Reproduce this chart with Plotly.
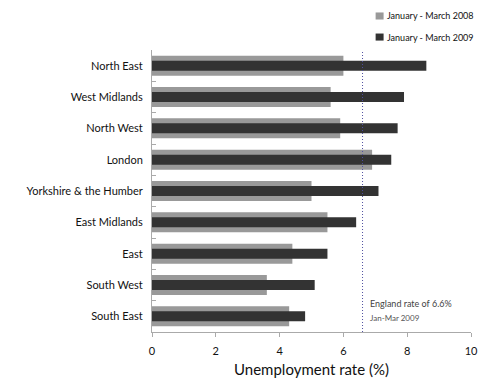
import plotly.graph_objects as go

regions = ["North East", "West Midlands", "North West", "London",
           "Yorkshire & the Humber", "East Midlands", "East", "South West", "South East"]
rate_2008 = [6.0, 5.6, 5.9, 6.9, 5.0, 5.5, 4.4, 3.6, 4.3]
rate_2009 = [8.6, 7.9, 7.7, 7.5, 7.1, 6.4, 5.5, 5.1, 4.8]
england_rate = 6.6
series_names = ["January - March 2008", "January - March 2009"]
x_ticks = [0, 2, 4, 6, 8, 10]

FONT = "Lato, 'Open Sans', sans-serif"
GREY = "#999999"
DARK = "#333333"
COLORS = [GREY, DARK]

fig = go.Figure()
fig.add_trace(go.Bar(y=regions, x=rate_2008, orientation="h", width=0.64,
                     name=series_names[0],
                     marker=dict(color=GREY, line=dict(width=0)), showlegend=False))
fig.add_trace(go.Bar(y=regions, x=rate_2009, orientation="h", width=0.32,
                     name=series_names[1],
                     marker=dict(color=DARK, line=dict(width=0)), showlegend=False))

# compact key in the top-right corner: small square swatch + label per series
key_x = 0.701           # left edge of swatches (paper units)
key_w = 0.025           # swatch width
key_h = 0.025           # swatch height
key_rows = [1.1206, 1.0459]
for name, col, yc in zip(series_names, COLORS, key_rows):
    fig.add_shape(type="rect", xref="paper", yref="paper",
                  x0=key_x, x1=key_x + key_w, y0=yc - key_h / 2, y1=yc + key_h / 2,
                  fillcolor=col, line=dict(width=0))
    fig.add_annotation(xref="paper", yref="paper", x=key_x + key_w, y=yc,
                       text=name, showarrow=False, xanchor="left", yanchor="middle",
                       xshift=1, font=dict(size=9, color="#111111", family=FONT))

fig.add_shape(type="line", x0=england_rate, x1=england_rate, xref="x",
              y0=0, y1=1, yref="y domain",
              line=dict(color="#5050a0", width=1, dash="1px,2px"))
fig.add_annotation(x=england_rate, y=0, yref="y domain", xref="x",
                   text="England rate of 6.6%", showarrow=False,
                   xanchor="left", yanchor="bottom", xshift=5, yshift=21,
                   font=dict(size=9, color="#444444", family=FONT))
fig.add_annotation(x=england_rate, y=0, yref="y domain", xref="x",
                   text="Jan-Mar 2009", showarrow=False,
                   xanchor="left", yanchor="bottom", xshift=5, yshift=7,
                   font=dict(size=8, color="#555555", family=FONT))

fig.update_layout(
    width=489, height=385,
    margin=dict(l=152, r=17.5, t=50.4, b=53.4, autoexpand=False),
    paper_bgcolor="white", plot_bgcolor="white",
    barmode="overlay", showlegend=False,
    font=dict(family=FONT, color="#111111"),
)
fig.update_xaxes(range=[0, 10], tickvals=x_ticks, ticks="outside", ticklen=4,
                 tickcolor="#aaaaaa", showline=True, linecolor="#aaaaaa",
                 showgrid=False, zeroline=False, ticklabelstandoff=5,
                 tickfont=dict(size=11, family=FONT, color="#111111"),
                 title=dict(text="Unemployment rate (%)", standoff=8,
                            font=dict(size=15, family=FONT, color="#111111")))
fig.update_yaxes(categoryorder="array", categoryarray=regions, autorange="reversed",
                 ticks="inside", ticklen=4, tickson="boundaries", tickcolor="#aaaaaa",
                 showline=True, linecolor="#aaaaaa", showgrid=False,
                 tickfont=dict(size=11, family=FONT, color="#111111"),
                 ticklabelstandoff=6)

fig.write_html("out.html")
